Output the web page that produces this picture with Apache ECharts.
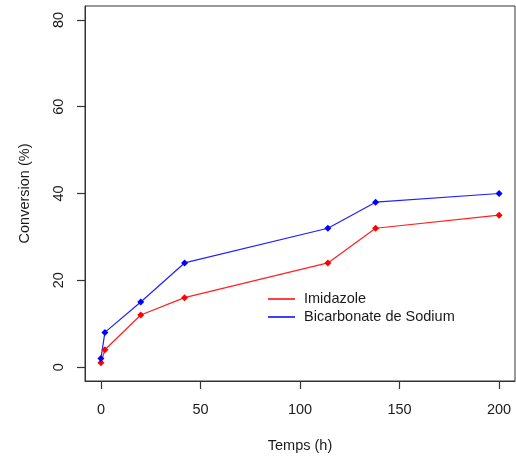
<!DOCTYPE html>
<html>
<head>
<meta charset="utf-8">
<script src="https://cdn.jsdelivr.net/npm/echarts@6/dist/echarts.min.js"></script>
<style>html,body{margin:0;padding:0;background:#fff;}#c{width:516px;height:459px;}</style>
</head>
<body>
<div id="c"></div>
<script>
const timeHours = [0, 2, 20, 42, 114, 138, 200];
const imidazole = [1, 4, 12, 16, 24, 32, 35];
const bicarbonate = [2, 8, 15, 24, 32, 38, 40];
const xTicks = [0, 50, 100, 150, 200];
const yTicks = [0, 20, 40, 60, 80];
const seriesNames = ['Imidazole', 'Bicarbonate de Sodium'];

const font = 'Liberation Sans, Arial, sans-serif';
const txt = '#1a1a1a';
const chart = echarts.init(document.getElementById('c'), null, {renderer: 'canvas'});
const pair = (xs, ys) => xs.map((x, i) => [x, ys[i]]);
chart.setOption({
  animation: false,
  backgroundColor: '#fff',
  grid: {left: 85, top: 6, right: 1, bottom: 78, show: true, borderColor: '#333', borderWidth: 1},
  xAxis: {
    type: 'value', min: -8, max: 208,
    name: 'Temps (h)', nameLocation: 'middle', nameGap: 57,
    nameTextStyle: {fontFamily: font, fontSize: 14.5, color: txt},
    axisLine: {show: true, onZero: false, lineStyle: {color: '#333', width: 1}},
    axisTick: {show: true, inside: false, length: 8, customValues: xTicks, lineStyle: {color: '#333', width: 1.2}},
    axisLabel: {customValues: xTicks, margin: 21, fontFamily: font, fontSize: 14.5, color: txt},
    splitLine: {show: false}
  },
  yAxis: {
    type: 'value', min: -3.2, max: 83.2,
    name: 'Conversion (%)', nameLocation: 'middle', nameGap: 53, nameRotate: 90,
    nameTextStyle: {fontFamily: font, fontSize: 14.5, color: txt},
    axisLine: {show: true, onZero: false, lineStyle: {color: '#333', width: 1}},
    axisTick: {show: true, inside: false, length: 8, customValues: yTicks, lineStyle: {color: '#333', width: 1.2}},
    axisLabel: {customValues: yTicks, rotate: 90, margin: 19, fontFamily: font, fontSize: 14.5, color: txt},
    splitLine: {show: false}
  },
  legend: {
    orient: 'vertical', left: 263, top: 285, itemGap: 0,
    itemWidth: 27, itemHeight: 1.5, icon: 'rect',
    textStyle: {fontFamily: font, fontSize: 14.5, color: txt, lineHeight: 18, padding: [0, 0, 0, 4]},
    data: seriesNames
  },
  series: [
    {name: seriesNames[0], type: 'line', data: pair(timeHours, imidazole), color: '#ff0000',
     lineStyle: {width: 1.2, color: '#ff2020'}, symbol: 'diamond', symbolSize: 7,
     itemStyle: {color: '#ff0000'}},
    {name: seriesNames[1], type: 'line', data: pair(timeHours, bicarbonate), color: '#0000ff',
     lineStyle: {width: 1.2, color: '#2020ff'}, symbol: 'diamond', symbolSize: 7,
     itemStyle: {color: '#0000ff'}}
  ]
});
</script>
</body>
</html>
